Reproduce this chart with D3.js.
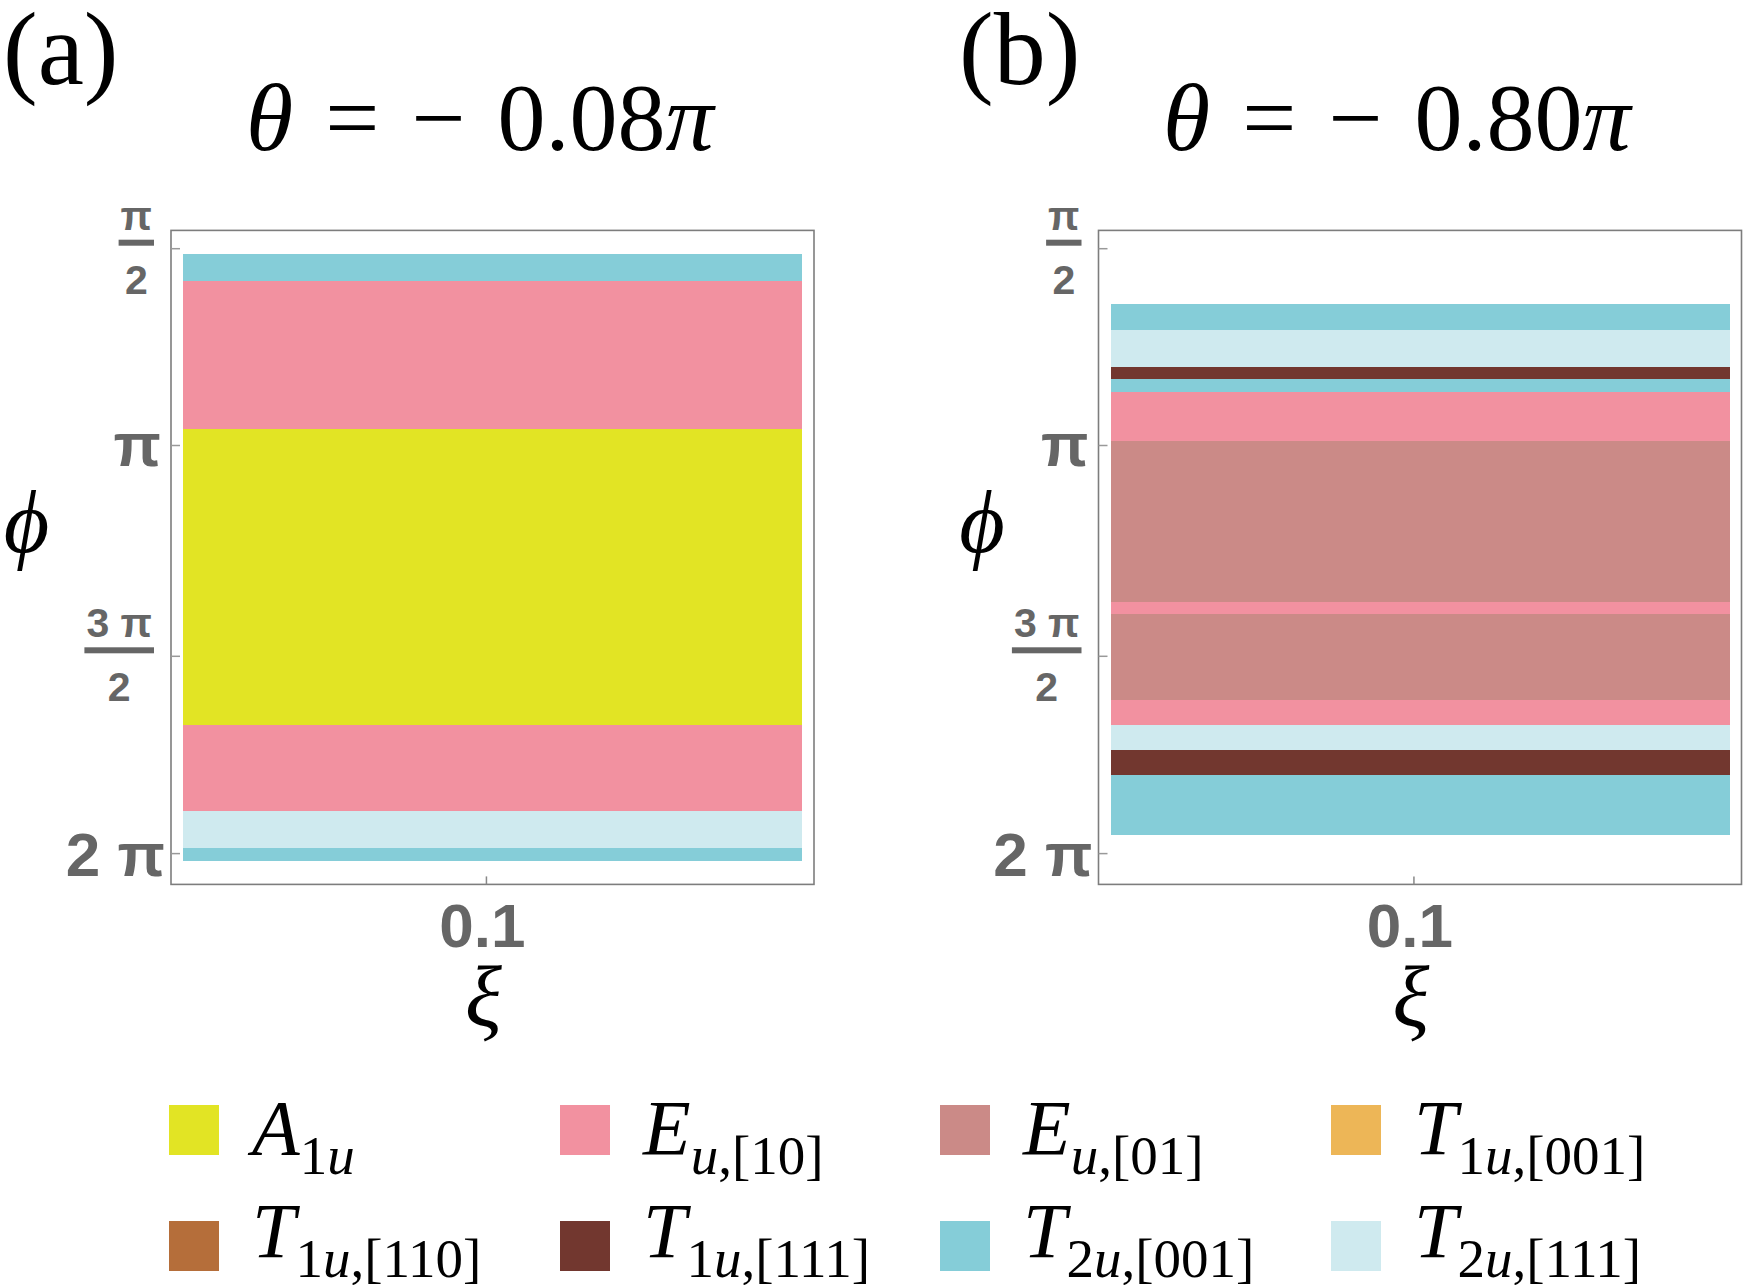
<!DOCTYPE html>
<html lang="en">
<head>
  <meta charset="utf-8">
  <title>Phase diagram xi - phi</title>
  <script src="https://d3js.org/d3.v7.min.js"></script>
  <style>
  body { margin: 0; background: #fff; }
  </style>
</head>
<body>
<script>
  // ---- data (phi in units of pi) ----
  var phaseKeys = ["A1u", "Eu10", "Eu01", "T1u001", "T1u110", "T1u111", "T2u001", "T2u111"];
  var legendMain = ["A", "E", "E", "T", "T", "T", "T", "T"];
  var legendIrrep = ["1u", "u", "u", "1u", "1u", "1u", "2u", "2u"];
  var legendDir = ["", "[10]", "[01]", "[001]", "[110]", "[111]", "[001]", "[111]"];

  var thetaValues = ["0.08", "0.80"];
  var panelTags = ["(a)", "(b)"];

  // panel (a), theta = -0.08 pi : band edges and the phase filling each band
  var phiEdgesA = [0.5135, 0.581, 0.958, 1.674, 1.893, 1.9865, 2.018];
  var phasesA = ["T2u001", "Eu10", "A1u", "Eu10", "T2u111", "T2u001"];

  // panel (b), theta = -0.80 pi
  var phiEdgesB = [0.6394, 0.7064, 0.8006, 0.8321, 0.8636, 0.9891, 1.3709,
                   1.4003, 1.612, 1.6748, 1.7374, 1.7998, 1.9541];
  var phasesB = ["T2u001", "T2u111", "T1u111", "T2u001", "Eu10", "Eu01", "Eu10",
                 "Eu01", "Eu10", "T2u111", "T1u111", "T2u001"];

  var phiTicks = [0.5, 1, 1.5, 2];
  var xiDomain = [0, 0.204];
  var xiTicks = [0.1];

  var palette = ["#e2e424", "#f291a0", "#cb8a87", "#edb657",
                 "#b56e3a", "#72372f", "#85cdd8", "#cfeaef"];

  // ---- layout ----
  var W = 1745, H = 1285;
  var frameTop = 230.4, frameW = 643, frameH = 654;
  var frameLefts = [171, 1098.5];
  var tickPx = [18.3, 215.1, 425.9, 623.2];   // where the phi ticks sit in the frame
  var phiLabelX = [26.5, 982];
  var tagX = [3, 959];
  var titleX = [246, 1163];

  var SANS = '"Liberation Sans", Arial, sans-serif';
  var SERIF = '"Liberation Serif", "Times New Roman", Times, serif';

  var color = d3.scaleOrdinal().domain(phaseKeys).range(palette);

  var svg = d3.select('body').append('svg')
    .attr('width', W)
    .attr('height', H);

  function tickText(g) {
    return g.append('text')
      .attr('font-family', SANS)
      .attr('font-weight', 'bold')
      .attr('fill', '#666');
  }

  function serifText(g) {
    return g.append('text')
      .attr('font-family', SERIF)
      .attr('fill', '#000');
  }

  function drawPanel(i, edges, phases) {
    var left = frameLefts[i];
    var g = svg.append('g').attr('transform', 'translate(' + left + ',' + frameTop + ')');

    var x = d3.scaleLinear().domain(xiDomain).range([12, frameW - 12]);
    var y = d3.scaleLinear().domain(phiTicks).range(tickPx);

    var bands = d3.pairs(edges).map(function (p, k) {
      return { from: p[0], to: p[1], phase: phases[k] };
    });

    g.selectAll('rect.band')
      .data(bands)
      .join('rect')
      .attr('class', 'band')
      .attr('x', x(xiDomain[0]))
      .attr('width', x(xiDomain[1]) - x(xiDomain[0]))
      .attr('y', function (d) { return y(d.from); })
      .attr('height', function (d) { return y(d.to) - y(d.from); })
      .attr('fill', function (d) { return color(d.phase); })
      .attr('shape-rendering', 'crispEdges');

    // frame
    g.append('rect')
      .attr('width', frameW)
      .attr('height', frameH)
      .attr('fill', 'none')
      .attr('stroke', '#7d7d7d')
      .attr('stroke-width', 1.6);

    // phi ticks (inside the frame)
    g.selectAll('line.ytick')
      .data(phiTicks)
      .join('line')
      .attr('x1', 0).attr('x2', 9)
      .attr('y1', function (d) { return y(d); })
      .attr('y2', function (d) { return y(d); })
      .attr('stroke', '#999')
      .attr('stroke-width', 1.5);

    // xi ticks
    g.selectAll('line.xtick')
      .data(xiTicks)
      .join('line')
      .attr('x1', function (d) { return x(d); })
      .attr('x2', function (d) { return x(d); })
      .attr('y1', frameH).attr('y2', frameH - 8)
      .attr('stroke', '#888')
      .attr('stroke-width', 1.5);

    xiTicks.forEach(function (d) {
      tickText(g)
        .attr('x', x(d) - 4)
        .attr('y', frameH + 63)
        .attr('text-anchor', 'middle')
        .attr('font-size', 62)
        .text(d3.format('.1f')(d));
    });

    // phi tick labels: pi/2, pi, 3pi/2, 2pi
    phiTicks.forEach(function (t) {
      var ty = y(t);
      if (t === 1) {
        tickText(g)
          .attr('x', -10).attr('y', ty + 21)
          .attr('text-anchor', 'end').attr('font-size', 62)
          .text('π');
      } else if (t === 2) {
        tickText(g)
          .attr('x', -6).attr('y', ty + 22)
          .attr('text-anchor', 'end').attr('font-size', 62)
          .text('2 π');
      } else {
        var num = t === 0.5 ? 'π' : '3 π';
        var right = -17;
        var nt = tickText(g)
          .attr('y', ty - 19)
          .attr('text-anchor', 'middle').attr('font-size', 41)
          .text(num);
        var w = nt.node().getComputedTextLength() + 4;
        var cx = right - w / 2;
        nt.attr('x', cx);
        g.append('rect')
          .attr('x', right - w).attr('width', w)
          .attr('y', ty - 9).attr('height', 6)
          .attr('fill', '#666');
        tickText(g)
          .attr('x', cx).attr('y', ty + 45)
          .attr('text-anchor', 'middle').attr('font-size', 41)
          .text('2');
      }
    });

    // xi axis title
    serifText(g)
      .attr('x', x(xiTicks[0]) - 3)
      .attr('y', 1026 - frameTop)
      .attr('text-anchor', 'middle')
      .attr('font-size', 86)
      .attr('font-style', 'italic')
      .text('ξ');

    // phi axis title
    serifText(svg)
      .attr('x', phiLabelX[i])
      .attr('y', 552)
      .attr('text-anchor', 'middle')
      .attr('font-size', 88)
      .attr('font-style', 'italic')
      .text('ϕ');

    // panel tag
    serifText(svg)
      .attr('x', tagX[i]).attr('y', 84)
      .attr('font-size', 104)
      .text(panelTags[i]);

    // title  theta = - 0.08 pi
    var tt = serifText(svg)
      .attr('x', titleX[i]).attr('y', 150)
      .attr('font-size', 96)
      .attr('word-spacing', 8);
    tt.append('tspan').attr('font-style', 'italic').text('θ');
    tt.append('tspan').text(' = − ' + thetaValues[i]);
    tt.append('tspan').attr('font-style', 'italic').text('π');
  }

  drawPanel(0, phiEdgesA, phasesA);
  drawPanel(1, phiEdgesB, phasesB);

  // ---- legend ----
  var legendCols = [169, 560, 940, 1331];
  var legendRowTop = [1105, 1221];
  var legendBase = [1154, 1257];
  var sw = 50;

  phaseKeys.forEach(function (k, i) {
    var col = i % 4, row = Math.floor(i / 4);
    var lx = legendCols[col];
    svg.append('rect')
      .attr('x', lx).attr('y', legendRowTop[row])
      .attr('width', sw).attr('height', sw)
      .attr('fill', color(k));

    var t = serifText(svg)
      .attr('x', lx + sw + 33)
      .attr('y', legendBase[row])
      .attr('font-size', 78);
    t.append('tspan').attr('font-style', 'italic').text(legendMain[i]);
    var irrep = legendIrrep[i];
    var first = true;
    if (/^\d/.test(irrep)) {
      t.append('tspan').attr('dy', 20).attr('font-size', 55).text(irrep[0]);
      irrep = irrep.slice(1);
      first = false;
    }
    var ut = t.append('tspan').attr('font-size', 55).attr('font-style', 'italic').text(irrep);
    if (first) ut.attr('dy', 20);
    if (legendDir[i]) {
      t.append('tspan').attr('font-size', 55).text(',' + legendDir[i]);
    }
  });
</script>
</body>
</html>
